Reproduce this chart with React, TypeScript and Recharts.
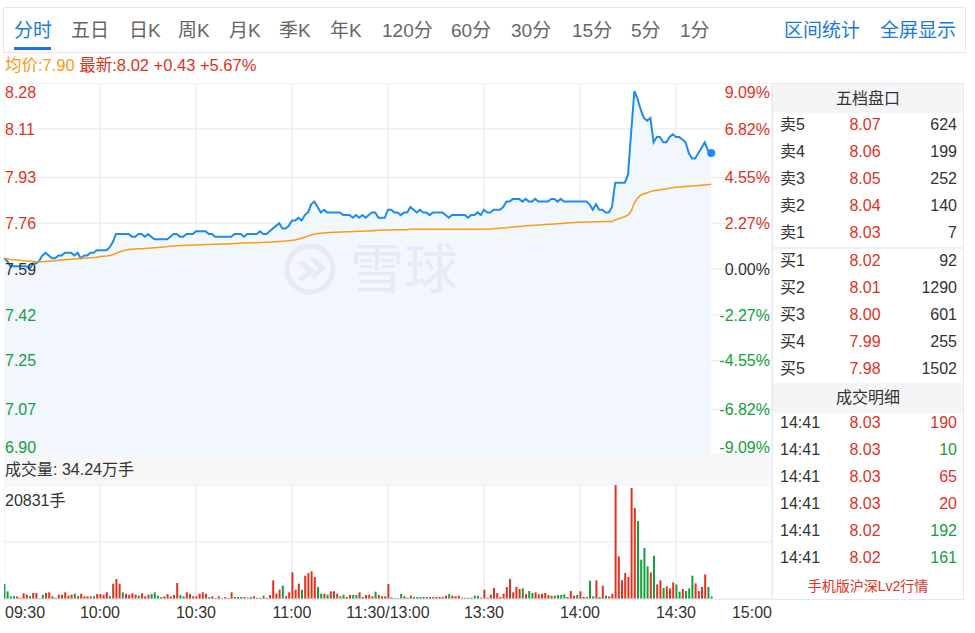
import { ComposedChart, Area, Line, Bar, Cell, XAxis, YAxis, CartesianGrid } from 'recharts';

const FONT = '"Liberation Sans", Arial, "Noto Sans CJK SC", sans-serif';
const RED = '#e2311d';
const GREEN = '#12a03c';
const BLUE = '#1c8cf2';
const ORANGE = '#ff9813';
const GRID = '#e6e8ef';
const DARK = '#333';
const TAB_BLUE = '#1b78e2';

const tabs = ['分时', '五日', '日K', '周K', '月K', '季K', '年K', '120分', '60分', '30分', '15分', '5分', '1分'];
const tabX = [14, 71, 129, 178, 229, 279, 330, 382, 451, 511, 572, 631, 680];

const prevClose = 7.59;
const priceTicks = [6.9, 7.07, 7.25, 7.42, 7.59, 7.76, 7.93, 8.11, 8.28];
const pctLabels = ['-9.09%', '-6.82%', '-4.55%', '-2.27%', '0.00%', '2.27%', '4.55%', '6.82%', '9.09%'];
const timeTicks = [0, 30, 60, 90, 120, 150, 180, 210, 240];
const timeLabels = ['09:30', '10:00', '10:30', '11:00', '11:30/13:00', '13:30', '14:00', '14:30', '15:00'];

// one value per minute from 09:30
const prices = [
  7.63, 7.62, 7.6, 7.6, 7.6, 7.6, 7.6, 7.6, 7.59, 7.61,
  7.61, 7.62, 7.64, 7.65, 7.64, 7.63, 7.63, 7.64, 7.64, 7.65,
  7.65, 7.65, 7.64, 7.65, 7.63, 7.64, 7.64, 7.65, 7.65, 7.66,
  7.66, 7.66, 7.66, 7.67, 7.69, 7.72, 7.72, 7.72, 7.72, 7.72,
  7.71, 7.71, 7.72, 7.72, 7.71, 7.72, 7.71, 7.7, 7.7, 7.7,
  7.7, 7.7, 7.71, 7.72, 7.72, 7.71, 7.71, 7.72, 7.72, 7.72,
  7.73, 7.73, 7.73, 7.73, 7.72, 7.72, 7.71, 7.71, 7.71, 7.71,
  7.71, 7.71, 7.72, 7.72, 7.72, 7.71, 7.72, 7.72, 7.72, 7.72,
  7.73, 7.72, 7.72, 7.73, 7.74, 7.75, 7.76, 7.74, 7.74, 7.75,
  7.77, 7.77, 7.78, 7.77, 7.79, 7.8, 7.83, 7.84, 7.82, 7.8,
  7.81, 7.8, 7.8, 7.8, 7.8, 7.8, 7.79, 7.79, 7.79, 7.78,
  7.79, 7.78, 7.79, 7.78, 7.79, 7.8, 7.8, 7.78, 7.78, 7.78,
  7.81, 7.81, 7.8, 7.8, 7.79, 7.8, 7.8, 7.82, 7.81, 7.8,
  7.81, 7.8, 7.8, 7.79, 7.8, 7.8, 7.8, 7.8, 7.79, 7.78,
  7.79, 7.79, 7.79, 7.79, 7.79, 7.78, 7.79, 7.79, 7.8, 7.79,
  7.81, 7.8, 7.8, 7.81, 7.81, 7.81, 7.82, 7.84, 7.84, 7.85,
  7.85, 7.85, 7.84, 7.85, 7.84, 7.84, 7.85, 7.84, 7.84, 7.84,
  7.84, 7.85, 7.85, 7.84, 7.85, 7.84, 7.84, 7.84, 7.84, 7.84,
  7.84, 7.84, 7.84, 7.83, 7.81, 7.83, 7.81, 7.81, 7.8, 7.8,
  7.82, 7.91, 7.91, 7.91, 7.91, 7.94, 8.1, 8.25, 8.22, 8.18,
  8.15, 8.14, 8.15, 8.06, 8.08, 8.08, 8.06, 8.06, 8.08, 8.09,
  8.08, 8.08, 8.07, 8.06, 8.02, 8.0, 8.0, 8.02, 8.04, 8.06,
  8.03, 8.02,
];

const avgPrices = [
  7.63, 7.628, 7.625, 7.624, 7.623, 7.622, 7.621, 7.62, 7.619, 7.618,
  7.617, 7.617, 7.617, 7.618, 7.619, 7.62, 7.621, 7.622, 7.623, 7.624,
  7.625, 7.626, 7.627, 7.628, 7.629, 7.63, 7.631, 7.632, 7.633, 7.634,
  7.636, 7.637, 7.638, 7.64, 7.643, 7.648, 7.653, 7.657, 7.66, 7.662,
  7.663, 7.664, 7.665, 7.665, 7.666, 7.667, 7.668, 7.669, 7.67, 7.671,
  7.672, 7.673, 7.674, 7.675, 7.676, 7.677, 7.677, 7.678, 7.678, 7.679,
  7.679, 7.68, 7.68, 7.681, 7.681, 7.682, 7.682, 7.682, 7.683, 7.683,
  7.684, 7.684, 7.685, 7.685, 7.686, 7.686, 7.686, 7.687, 7.687, 7.687,
  7.688, 7.688, 7.689, 7.689, 7.69, 7.691, 7.692, 7.693, 7.694, 7.695,
  7.697, 7.698, 7.701, 7.704, 7.708, 7.712, 7.716, 7.72, 7.722, 7.723,
  7.724, 7.725, 7.725, 7.726, 7.726, 7.727, 7.727, 7.728, 7.728, 7.729,
  7.729, 7.73, 7.73, 7.731, 7.731, 7.732, 7.733, 7.734, 7.734, 7.735,
  7.735, 7.735, 7.736, 7.736, 7.736, 7.736, 7.736, 7.737, 7.737, 7.737,
  7.737, 7.737, 7.737, 7.737, 7.737, 7.737, 7.737, 7.737, 7.737, 7.737,
  7.737, 7.737, 7.737, 7.737, 7.737, 7.737, 7.737, 7.737, 7.737, 7.737,
  7.737, 7.738, 7.738, 7.739, 7.74, 7.741, 7.742, 7.743, 7.745, 7.746,
  7.747, 7.748, 7.749, 7.75, 7.751, 7.751, 7.752, 7.753, 7.754, 7.755,
  7.756, 7.756, 7.757, 7.758, 7.759, 7.76, 7.761, 7.762, 7.762, 7.763,
  7.763, 7.763, 7.764, 7.764, 7.765, 7.765, 7.765, 7.766, 7.766, 7.766,
  7.766, 7.772, 7.776, 7.78, 7.785, 7.79, 7.805, 7.835, 7.853, 7.864,
  7.869, 7.873, 7.877, 7.88, 7.882, 7.884, 7.886, 7.888, 7.89, 7.891,
  7.893, 7.894, 7.895, 7.896, 7.897, 7.898, 7.899, 7.9, 7.901, 7.902,
  7.903, 7.904,
];

const volumes = [
  2740, 1400, 490, 490, 490, 240, 1040, 790, 490, 1100,
  1100, 120, 790, 1100, 1220, 490, 240, 790, 790, 1220,
  610, 790, 970, 490, 970, 490, 490, 490, 490, 910,
  910, 790, 1220, 490, 2800, 3650, 2800, 1220, 970, 790,
  1040, 790, 610, 1040, 490, 790, 910, 1220, 610, 370,
  490, 910, 490, 730, 2920, 730, 490, 1220, 910, 490,
  490, 970, 1220, 970, 370, 490, 180, 490, 120, 370,
  180, 1220, 370, 370, 370, 370, 240, 370, 490, 240,
  240, 610, 240, 730, 3410, 970, 1710, 2440, 490, 1220,
  4870, 1710, 2800, 1710, 4260, 4750, 5050, 4020, 2190, 970,
  970, 790, 1400, 1400, 970, 490, 790, 370, 730, 730,
  730, 1220, 370, 730, 790, 490, 1340, 730, 490, 490,
  2740, 300, 180, 180, 910, 490, 240, 610, 370, 370,
  370, 370, 370, 370, 370, 370, 370, 370, 610, 910,
  610, 490, 610, 240, 240, 240, 240, 610, 610, 240,
  1710, 240, 790, 2010, 1100, 370, 970, 2190, 3650, 1220,
  2190, 1830, 1950, 850, 1460, 1100, 1220, 850, 970, 1100,
  730, 610, 610, 730, 730, 850, 370, 1460, 610, 730,
  1390, 370, 370, 3350, 480, 3400, 370, 2430, 590, 480,
  960, 20831, 7800, 3410, 4750, 4020, 20280, 16630, 14250, 7190,
  9320, 5970, 4870, 7920, 2670, 3400, 2010, 2300, 1940, 3030,
  2670, 1330, 1830, 1460, 1940, 4260, 2850, 1460, 2190, 4500,
  2190, 480,
];

// r = up minute, g = down minute
const volumeDirs = (
  'ggggrrrrgr' + 'rrgrrrgrrr' + 'rrgrrrrrgr' + 'rrrgrrrgrr' + 'rrgrrrgggg' +
  'rrrrrggrrr' + 'rrrrgrrrrr' + 'rrgggrrgrr' + 'rgrrrrrgrr' + 'rrrgrrrrgg' +
  'rgrrrggrrg' + 'grgrrrgrrr' + 'rggrgrrrgg' + 'gggrrrrrrg' + 'rrrgggrggr' +
  'rrrrrrrrrr' + 'rrgrggrrrr' + 'rgrgggrrrg' + 'rrrggrgrgr' + 'rrrrrrrrgg' +
  'ggrgrrgrrr' + 'ggrgggrrrr' + 'gg'
).split('');

const askLabels = ['卖5', '卖4', '卖3', '卖2', '卖1'];
const askPrices = ['8.07', '8.06', '8.05', '8.04', '8.03'];
const askVols = [624, 199, 252, 140, 7];
const bidLabels = ['买1', '买2', '买3', '买4', '买5'];
const bidPrices = ['8.02', '8.01', '8.00', '7.99', '7.98'];
const bidVols = [92, 1290, 601, 255, 1502];
const tradeTimes = ['14:41', '14:41', '14:41', '14:41', '14:41', '14:41'];
const tradePrices = ['8.03', '8.03', '8.03', '8.03', '8.02', '8.02'];
const tradeVols = [190, 10, 65, 20, 192, 161];
const tradeDirs = ['r', 'g', 'r', 'r', 'g', 'g'];

const rows = prices.map((p, i) => ({ m: i, price: p, avg: avgPrices[i], vol: volumes[i] }));
const maxVol = Math.max(...volumes);
const lastIdx = prices.length - 1;

function PriceTick(props: any) {
  const { y, index, payload } = props;
  const n = priceTicks.length;
  const mid = priceTicks.indexOf(prevClose);
  const dy = index === 0 ? -8 : index === n - 1 ? 9 : 0;
  const fill = index > mid ? RED : index < mid ? GREEN : DARK;
  return (
    <g>
      <text x={1} y={y + dy} dy="0.355em" textAnchor="start" fill={fill} fontSize={16} fontFamily={FONT}>
        {Number(payload.value).toFixed(2)}
      </text>
      <text x={766} y={y + dy} dy="0.355em" textAnchor="end" fill={fill} fontSize={16} fontFamily={FONT}>
        {pctLabels[index]}
      </text>
    </g>
  );
}

function EmptyTick() {
  return <g />;
}

function TimeTick(props: any) {
  const { x, y, index } = props;
  const anchor = index === 0 ? 'start' : index === timeTicks.length - 1 ? 'end' : 'middle';
  return (
    <text x={index === 0 ? x + 1 : x} y={y + 13} dy="0.355em" textAnchor={anchor} fill={DARK} fontSize={16} fontFamily={FONT}>
      {timeLabels[index]}
    </text>
  );
}

function LastDot(props: any) {
  const { cx, cy, index } = props;
  if (index !== lastIdx) return <g key={`d${index}`} />;
  return <circle key="last" cx={cx} cy={cy} r={4} fill={BLUE} />;
}

const txt = (extra: any) => ({ position: 'absolute' as const, whiteSpace: 'nowrap' as const, ...extra });

function BookRow({ y, label, price, vol, volColor }: any) {
  return (
    <>
      <div style={txt({ left: 780, top: y - 10, fontSize: 16, lineHeight: '20px', color: DARK })}>{label}</div>
      <div style={txt({ left: 825, width: 80, textAlign: 'center', top: y - 10, fontSize: 16, lineHeight: '20px', color: RED })}>{price}</div>
      <div style={txt({ right: 975 - 957, top: y - 10, fontSize: 16, lineHeight: '20px', color: volColor })}>{vol}</div>
    </>
  );
}

export default function App() {
  return (
    <div style={{ position: 'absolute', left: 0, top: 0, width: 975, height: 633, background: '#fff', fontFamily: FONT }}>
      {/* tab bar */}
      <div style={{ position: 'absolute', left: 3, top: 7, width: 963, height: 46, border: '1px solid #e8e8ec', boxSizing: 'border-box' }} />
      {tabs.map((t, i) => (
        <div key={t} style={txt({ left: tabX[i], top: 19, fontSize: 19, lineHeight: '24px', color: i === 0 ? TAB_BLUE : '#666' })}>{t}</div>
      ))}
      <div style={{ position: 'absolute', left: 14, top: 47, width: 37, height: 3, background: TAB_BLUE }} />
      <div style={txt({ left: 784, top: 19, fontSize: 19, lineHeight: '24px', color: TAB_BLUE })}>区间统计</div>
      <div style={txt({ left: 880, top: 19, fontSize: 19, lineHeight: '24px', color: TAB_BLUE })}>全屏显示</div>

      {/* info line */}
      <div style={txt({ left: 5, top: 55, fontSize: 16.5, lineHeight: '20px' })}>
        <span style={{ color: ORANGE }}>均价:7.90</span>
        <span style={{ color: RED }}> 最新:8.02 +0.43 +5.67%</span>
      </div>

      {/* price chart */}
      <div style={{ position: 'absolute', left: 4, top: 83 }}>
        <ComposedChart width={768} height={372} data={rows} margin={{ top: 0, right: 0, bottom: 0, left: 0 }}>
          <CartesianGrid stroke={GRID} />
          <XAxis type="number" dataKey="m" domain={[0, 240]} ticks={timeTicks} interval={0} mirror height={20} tick={<EmptyTick />} axisLine={false} tickLine={false} />
          <YAxis type="number" domain={[priceTicks[0], priceTicks[priceTicks.length - 1]]} ticks={priceTicks} width={40} mirror axisLine={false} tickLine={false} tick={<PriceTick />} interval={0} />
          <Area type="linear" dataKey="price" stroke={BLUE} strokeWidth={2} fill="#f2f6fd" fillOpacity={1} dot={<LastDot />} activeDot={false} isAnimationActive={false} />
          <Line type="linear" dataKey="avg" stroke={ORANGE} strokeWidth={1.5} dot={false} activeDot={false} isAnimationActive={false} />
        </ComposedChart>
      </div>

      {/* watermark */}
      <div style={{ position: 'absolute', left: 282, top: 240, opacity: 0.75, pointerEvents: 'none' }}>
        <svg width={200} height={60}>
          <circle cx={28} cy={29} r={23} fill="none" stroke="#e3e7f0" strokeWidth={5} />
          <path d="M18 22 L29 31 L18 40 M30 18 L40 28 L30 38" fill="none" stroke="#e3e7f0" strokeWidth={5} />
          <text x={68} y={49} fontSize={54} fill="#e3e7f0" fontFamily={FONT}>雪球</text>
        </svg>
      </div>

      {/* volume header */}
      <div style={{ position: 'absolute', left: 4, top: 455, width: 768, height: 30, background: '#f7f7f8' }} />
      <div style={txt({ left: 5, top: 460, fontSize: 16, lineHeight: '20px', color: DARK })}>成交量: 34.24万手</div>
      <div style={txt({ left: 5, top: 491, fontSize: 16, lineHeight: '20px', color: DARK })}>{maxVol}手</div>

      {/* volume chart */}
      <div style={{ position: 'absolute', left: 4, top: 485 }}>
        <ComposedChart width={768} height={148} data={rows} margin={{ top: 0, right: 0, bottom: 0, left: 0 }}>
          <CartesianGrid stroke={GRID} />
          <XAxis type="number" dataKey="m" domain={[0, 240]} ticks={timeTicks} height={34} interval={0} axisLine={{ stroke: GRID }} tickLine={false} tickSize={0} tickMargin={0} tick={<TimeTick />} />
          <YAxis type="number" domain={[0, maxVol]} ticks={[0, maxVol / 2, maxVol]} width={20} mirror tick={<EmptyTick />} axisLine={false} tickLine={false} />
          <Bar dataKey="vol" barSize={2} isAnimationActive={false}>
            {rows.map((r, i) => (
              <Cell key={r.m} fill={volumeDirs[i] === 'r' ? RED : GREEN} />
            ))}
          </Bar>
        </ComposedChart>
      </div>

      {/* order book panel */}
      <div style={{ position: 'absolute', left: 772, top: 83, width: 192, height: 517, border: '1px solid #e6e8ef', boxSizing: 'border-box' }} />
      <div style={{ position: 'absolute', left: 773, top: 84, width: 190, height: 29, background: '#f5f5f7' }} />
      <div style={txt({ left: 773, width: 190, textAlign: 'center', top: 89, fontSize: 16, lineHeight: '20px', color: DARK })}>五档盘口</div>
      {askLabels.map((l, i) => (
        <BookRow key={l} y={125 + i * 27} label={l} price={askPrices[i]} vol={askVols[i]} volColor={DARK} />
      ))}
      <div style={{ position: 'absolute', left: 773, top: 247, width: 190, height: 2, background: '#eeeff3' }} />
      {bidLabels.map((l, i) => (
        <BookRow key={l} y={261 + i * 27} label={l} price={bidPrices[i]} vol={bidVols[i]} volColor={DARK} />
      ))}
      <div style={{ position: 'absolute', left: 773, top: 383, width: 190, height: 30, background: '#f5f5f7' }} />
      <div style={txt({ left: 773, width: 190, textAlign: 'center', top: 388, fontSize: 16, lineHeight: '20px', color: DARK })}>成交明细</div>
      {tradeTimes.map((t, i) => (
        <BookRow key={i} y={423 + i * 27} label={t} price={tradePrices[i]} vol={tradeVols[i]} volColor={tradeDirs[i] === 'r' ? RED : GREEN} />
      ))}
      <div style={txt({ left: 773, width: 190, textAlign: 'center', top: 576, fontSize: 14, lineHeight: '20px', color: RED })}>手机版沪深Lv2行情</div>
    </div>
  );
}
